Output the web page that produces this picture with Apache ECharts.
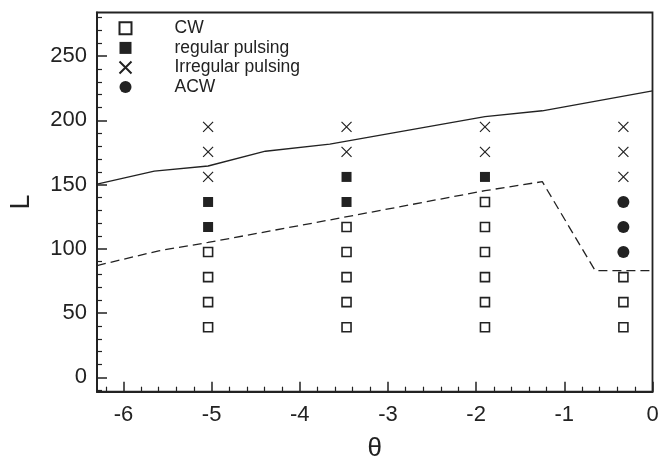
<!DOCTYPE html>
<html>
<head>
<meta charset="utf-8">
<script src="https://cdn.jsdelivr.net/npm/echarts@6/dist/echarts.min.js"></script>
<style>
  html, body { margin: 0; padding: 0; background: #fff; }
  #chart { width: 659px; height: 459px; }
</style>
</head>
<body>
<div id="chart"></div>
<script>
// θ positions of the four sampled columns
const thetaCols = [-5.04, -3.47, -1.90, -0.33];

// regime points [θ, L]
const cwPts = [
  [-5.04, 39], [-5.04, 58.5], [-5.04, 78], [-5.04, 97.5],
  [-3.47, 39], [-3.47, 58.5], [-3.47, 78], [-3.47, 97.5], [-3.47, 117],
  [-1.90, 39], [-1.90, 58.5], [-1.90, 78], [-1.90, 97.5], [-1.90, 117], [-1.90, 136.5],
  [-0.33, 39], [-0.33, 58.5], [-0.33, 78]
];
const regularPts = [
  [-5.04, 117], [-5.04, 136.5],
  [-3.47, 136.5], [-3.47, 156],
  [-1.90, 156]
];
const irregularPts = [
  [-5.04, 156], [-5.04, 175.5], [-5.04, 195],
  [-3.47, 175.5], [-3.47, 195],
  [-1.90, 175.5], [-1.90, 195],
  [-0.33, 156], [-0.33, 175.5], [-0.33, 195]
];
const acwPts = [
  [-0.33, 97.5], [-0.33, 117], [-0.33, 136.5]
];

// boundaries
const upperLine = [[-6.3, 150.4], [-5.65, 160.5], [-5.04, 164.5], [-4.39, 176],
  [-3.66, 181.5], [-1.9, 203], [-1.25, 207.5], [0, 223]];
const lowerLine = [[-6.3, 87], [-5.6, 98.5], [-5.04, 105], [-3.66, 122.5],
  [-1.9, 145.3], [-1.25, 152.3], [-0.65, 83], [0, 83]];

// tick labels
const xLabels = [-6, -5, -4, -3, -2, -1, 0];
const xMinor = [-6.2, -5.8, -5.6, -5.4, -5.2, -4.8, -4.6, -4.4, -4.2, -3.8, -3.6, -3.4, -3.2,
  -2.8, -2.6, -2.4, -2.2, -1.8, -1.6, -1.4, -1.2, -0.8, -0.6, -0.4, -0.2];
const yLabels = [0, 50, 100, 150, 200, 250];
const yMinor = [-10, 10, 20, 30, 40, 60, 70, 80, 90, 110, 120, 130, 140, 160, 170, 180, 190,
  210, 220, 230, 240, 260, 270, 280];

const ink = '#222';
const font = 'Liberation Sans, Arial, Helvetica, sans-serif';
const xPath = 'path://M0,0L10,10M10,0L0,10';

let myChart = echarts.init(document.getElementById('chart'));
let option = {
  animation: false,
  grid: {
    left: 97, right: 6.5, top: 12.5, bottom: 67.3,
    outerBoundsMode: 'none',
    show: true, borderColor: ink, borderWidth: 1.8, backgroundColor: 'transparent'
  },
  legend: {
    orient: 'vertical',
    left: 112,
    top: 13.5,
    itemWidth: 12,
    itemHeight: 12,
    itemGap: 0,
    data: ['CW', 'regular pulsing', 'Irregular pulsing', 'ACW'],
    textStyle: {
      color: ink, fontSize: 17.5, fontFamily: font,
      lineHeight: 19.6, padding: [0, 0, 0, 38]
    }
  },
  xAxis: [
    {
      type: 'value', min: -6.3, max: 0,
      name: 'θ', nameLocation: 'middle', nameGap: 44,
      nameTextStyle: { color: ink, fontSize: 26, fontFamily: font },
      axisLine: { show: true, onZero: false, lineStyle: { color: ink, width: 2 } },
      axisTick: { show: true, inside: true, length: 10, customValues: xLabels,
        lineStyle: { color: ink, width: 1.5 } },
      axisLabel: { customValues: xLabels, color: ink, fontSize: 22, fontFamily: font, margin: 12 },
      splitLine: { show: false }
    },
    {
      type: 'value', min: -6.3, max: 0, position: 'bottom',
      axisLine: { show: false, onZero: false },
      axisTick: { show: true, inside: true, length: 5, customValues: xMinor,
        lineStyle: { color: ink, width: 1.2 } },
      axisLabel: { show: false },
      splitLine: { show: false }
    }
  ],
  yAxis: [
    {
      type: 'value', min: -11.2, max: 284,
      name: 'L', nameLocation: 'middle', nameGap: 62,
      nameTextStyle: { color: ink, fontSize: 27, fontFamily: font },
      axisLine: { show: true, onZero: false, lineStyle: { color: ink, width: 2 } },
      axisTick: { show: true, inside: true, length: 10, customValues: yLabels,
        lineStyle: { color: ink, width: 1.5 } },
      axisLabel: { customValues: yLabels, color: ink, fontSize: 22, fontFamily: font, margin: 10 },
      splitLine: { show: false }
    },
    {
      type: 'value', min: -11.2, max: 284, position: 'left',
      axisLine: { show: false, onZero: false },
      axisTick: { show: true, inside: true, length: 5, customValues: yMinor,
        lineStyle: { color: ink, width: 1.2 } },
      axisLabel: { show: false },
      splitLine: { show: false }
    }
  ],
  series: [
    {
      name: 'upper', type: 'line', data: upperLine, showSymbol: false,
      lineStyle: { color: ink, width: 1.3 }, z: 1
    },
    {
      name: 'lower', type: 'line', data: lowerLine, showSymbol: false,
      lineStyle: { color: ink, width: 1.3, type: [9, 5] }, z: 1
    },
    {
      name: 'CW', type: 'scatter', data: cwPts, symbol: 'rect', symbolSize: 9,
      itemStyle: { color: '#fff', borderColor: ink, borderWidth: 1.6, opacity: 1 }
    },
    {
      name: 'regular pulsing', type: 'scatter', data: regularPts, symbol: 'rect', symbolSize: 10,
      itemStyle: { color: ink, opacity: 1 }
    },
    {
      name: 'Irregular pulsing', type: 'scatter', data: irregularPts, symbol: xPath, symbolSize: 10,
      itemStyle: { color: 'none', borderColor: ink, borderWidth: 1.2, opacity: 1 }
    },
    {
      name: 'ACW', type: 'scatter', data: acwPts, symbol: 'circle', symbolSize: 12,
      itemStyle: { color: ink, opacity: 1 }
    }
  ]
};
myChart.setOption(option);
</script>
</body>
</html>
